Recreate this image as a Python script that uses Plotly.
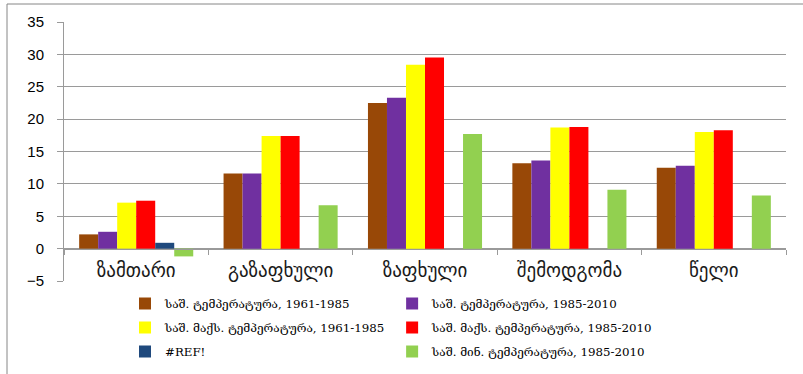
import plotly.graph_objects as go

# Seasons along the category axis
seasons = ["ზამთარი", "გაზაფხული", "ზაფხული", "შემოდგომა", "წელი"]

# Series values (°C)
mean_1961_1985 = [2.2, 11.6, 22.5, 13.2, 12.5]
mean_1985_2010 = [2.6, 11.6, 23.3, 13.6, 12.8]
max_1961_1985 = [7.1, 17.4, 28.4, 18.7, 18.0]
max_1985_2010 = [7.4, 17.4, 29.5, 18.8, 18.3]
ref_series = [0.9, None, None, None, None]
min_1985_2010 = [-1.2, 6.7, 17.7, 9.1, 8.2]

series = [
    ("საშ. ტემპერატურა, 1961-1985", mean_1961_1985, "#984807", "legend"),
    ("საშ. ტემპერატურა, 1985-2010", mean_1985_2010, "#7030A0", "legend2"),
    ("საშ. მაქს. ტემპერატურა, 1961-1985", max_1961_1985, "#FFFF00", "legend"),
    ("საშ. მაქს. ტემპერატურა, 1985-2010", max_1985_2010, "#FF0000", "legend2"),
    ("#REF!", ref_series, "#1F497D", "legend"),
    ("საშ. მინ. ტემპერატურა, 1985-2010", min_1985_2010, "#92D050", "legend2"),
]

W, H = 803, 374
ML, MR, MT, MB = 64, 17, 22, 93
pw, ph = W - ML - MR, H - MT - MB

fig = go.Figure()
for i, (name, vals, color, lg) in enumerate(series):
    fig.add_trace(go.Bar(
        x=seasons, y=vals, name=name, marker_color=color,
        marker_line_width=0, legend=lg, legendgroup=f"g{i}",
    ))

grid = "#9a9a9a"
legend_font = dict(family="DejaVu Serif", size=11.8, color="#000000")
legend_top = -(289 - (H - MB)) / ph

fig.update_layout(
    width=W, height=H,
    margin=dict(l=ML, r=MR, t=MT, b=MB, autoexpand=False),
    paper_bgcolor="white", plot_bgcolor="white",
    barmode="group", bargap=0.21, bargroupgap=0,
    xaxis=dict(
        type="category", anchor="free", position=5 / 40,
        showline=True, linecolor=grid, linewidth=1,
        ticks="outside", tickson="boundaries", ticklen=5, tickcolor=grid,
        showgrid=False, zeroline=False, ticklabelstandoff=5,
        tickfont=dict(family="DejaVu Sans", size=19, color="#1a1a1a"),
    ),
    yaxis=dict(
        range=[-5, 35], dtick=5, tick0=0,
        showline=True, linecolor=grid, linewidth=1,
        ticks="outside", ticklen=6, tickcolor=grid,
        showgrid=True, gridcolor=grid, gridwidth=1,
        zeroline=False, ticklabelstandoff=10,
        tickfont=dict(family="Liberation Sans", size=15, color="#000000"),
    ),
    legend=dict(
        orientation="v", x=(125 - ML) / pw, xanchor="left",
        y=legend_top, yanchor="top",
        font=legend_font, itemwidth=30, tracegroupgap=5,
        bgcolor="rgba(0,0,0,0)", itemclick=False,
    ),
    legend2=dict(
        orientation="v", x=(0.46 * pw - 4) / pw, xanchor="left",
        y=legend_top, yanchor="top",
        font=legend_font, itemwidth=30, tracegroupgap=5,
        bgcolor="rgba(0,0,0,0)", itemclick=False,
    ),
    showlegend=True,
)

# Outer chart frame (runs off the right and bottom edges)
fig.add_shape(
    type="rect", xref="paper", yref="paper",
    x0=(7 - ML) / pw, x1=(W + 20 - ML) / pw,
    y0=-(H + 20 - (H - MB)) / ph, y1=1 + (MT - 4) / ph,
    line=dict(color="#868686", width=1), fillcolor="rgba(0,0,0,0)",
    layer="below",
)

fig.write_html("out.html")
